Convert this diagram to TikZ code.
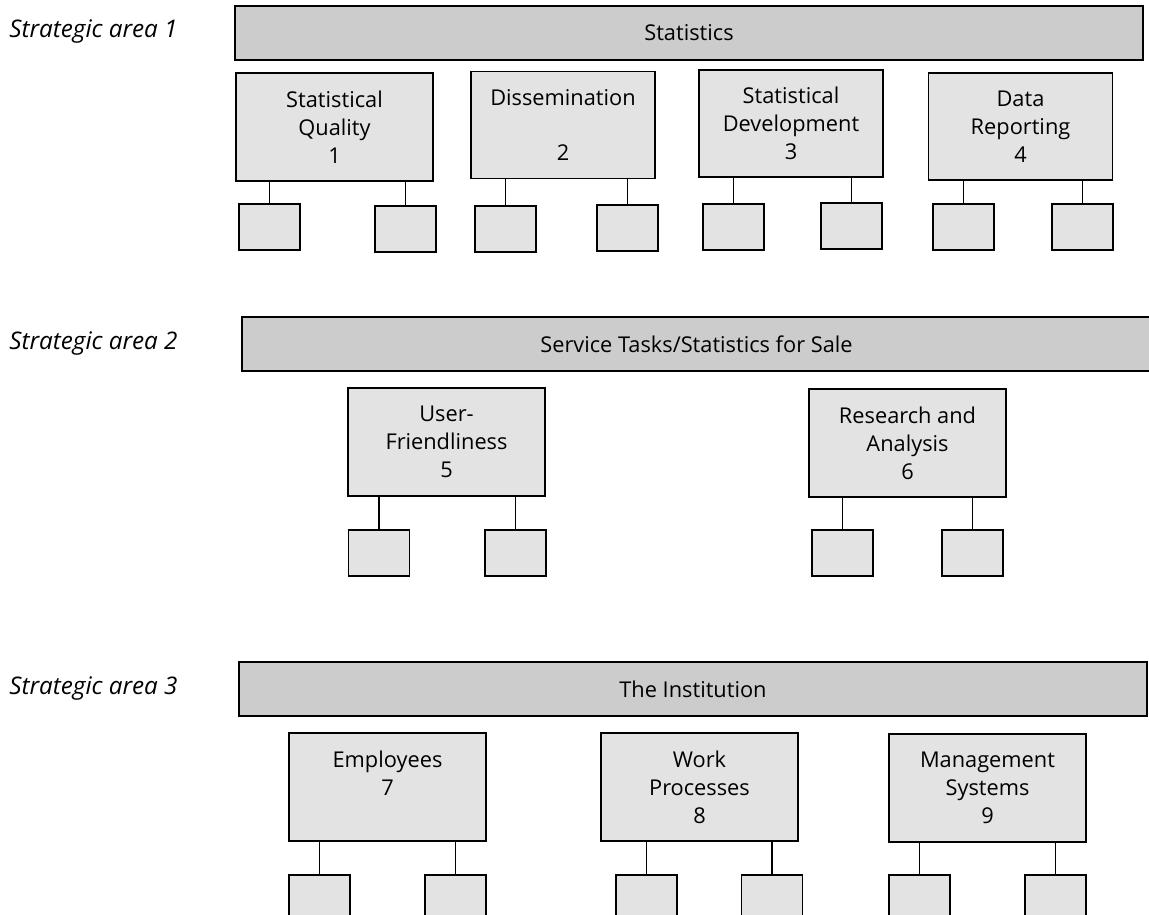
\documentclass[tikz,border=0pt]{standalone}
\usepackage{fontspec}
\setmainfont{Open Sans}
\definecolor{bargray}{HTML}{CCCCCC}
\definecolor{boxgray}{HTML}{E3E3E3}
\newcommand{\boxfont}{\fontsize{12.4}{15.9}\selectfont}
\newcommand{\areafont}{\fontsize{13.8}{16}\selectfont\itshape}
\begin{document}
\begin{tikzpicture}[x=0.02cm, y=-0.02cm, font=\boxfont,
  bar/.style={draw, line width=0.8pt, fill=bargray, minimum width=18.16cm, minimum height=1.08cm, inner sep=0pt},
  topic/.style={draw, line width=0.8pt, fill=boxgray, minimum width=3.94cm, minimum height=2.16cm, inner sep=0pt, align=center},
  slimtopic/.style={topic, minimum width=3.68cm, minimum height=2.14cm},
  leaf/.style={draw, line width=0.8pt, fill=boxgray, minimum width=1.22cm, minimum height=0.92cm, inner sep=0pt},
  arealabel/.style={anchor=base west, inner sep=0pt, font=\areafont},
  link/.style={line width=0.75pt}]
\useasboundingbox (0,0) rectangle (1149,914);

% Strategic area 1
\node[arealabel] (area1) at (9,37) {Strategic area 1};
\node[bar] (statistics) at (689,33) {Statistics};
\node[topic] (quality) at (334.5,127) {Statistical\\Quality\\1};
\node[slimtopic] (dissemination) at (563,125) {Dissemination\\\mbox{}\\2};
\node[slimtopic] (development) at (791,123.5) {Statistical\\Development\\3};
\node[slimtopic] (reporting) at (1020.5,126.5) {Data\\Reporting\\4};
\node[leaf] (quality a) at (269.5,227) {};
\node[leaf] (quality b) at (405.5,229) {};
\node[leaf] (dissemination a) at (505.5,229) {};
\node[leaf] (dissemination b) at (627.5,228) {};
\node[leaf] (development a) at (733.5,227) {};
\node[leaf] (development b) at (851.5,226) {};
\node[leaf] (reporting a) at (963.5,227) {};
\node[leaf] (reporting b) at (1082.5,227) {};
\draw[link] (quality a.north) -- (quality a.north |- quality.south);
\draw[link] (quality b.north) -- (quality b.north |- quality.south);
\draw[link] (dissemination a.north) -- (dissemination a.north |- dissemination.south);
\draw[link] (dissemination b.north) -- (dissemination b.north |- dissemination.south);
\draw[link] (development a.north) -- (development a.north |- development.south);
\draw[link] (development b.north) -- (development b.north |- development.south);
\draw[link] (reporting a.north) -- (reporting a.north |- reporting.south);
\draw[link] (reporting b.north) -- (reporting b.north |- reporting.south);

% Strategic area 2
\node[arealabel] (area2) at (9,349) {Strategic area 2};
\node[bar, minimum width=18.18cm] (service) at (696.5,344) {Service Tasks/Statistics for Sale};
\node[topic] (friendliness) at (446.5,442) {User-\\Friendliness\\5};
\node[topic] (research) at (907.5,443) {Research and\\Analysis\\6};
\node[leaf] (friendliness a) at (379,553) {};
\node[leaf] (friendliness b) at (515.5,553) {};
\node[leaf] (research a) at (842.5,553) {};
\node[leaf] (research b) at (972.5,553) {};
\draw[link] (friendliness a.north) -- (friendliness a.north |- friendliness.south);
\draw[link] (friendliness b.north) -- (friendliness b.north |- friendliness.south);
\draw[link] (research a.north) -- (research a.north |- research.south);
\draw[link] (research b.north) -- (research b.north |- research.south);

% Strategic area 3
\node[arealabel] (area3) at (9,694) {Strategic area 3};
\node[bar] (institution) at (693,689) {The Institution};
\node[topic] (employees) at (387.5,787) {Employees\\7\\\mbox{}};
\node[topic] (processes) at (699.5,787) {Work\\Processes\\8};
\node[topic] (management) at (987.5,788) {Management\\Systems\\9};
\node[leaf] (employees a) at (319.5,898) {};
\node[leaf] (employees b) at (455.5,898) {};
\node[leaf] (processes a) at (646.5,898) {};
\node[leaf] (processes b) at (772,898) {};
\node[leaf] (management a) at (919.5,898) {};
\node[leaf] (management b) at (1055.5,898) {};
\draw[link] (employees a.north) -- (employees a.north |- employees.south);
\draw[link] (employees b.north) -- (employees b.north |- employees.south);
\draw[link] (processes a.north) -- (processes a.north |- processes.south);
\draw[link] (processes b.north) -- (processes b.north |- processes.south);
\draw[link] (management a.north) -- (management a.north |- management.south);
\draw[link] (management b.north) -- (management b.north |- management.south);
\end{tikzpicture}
\end{document}
